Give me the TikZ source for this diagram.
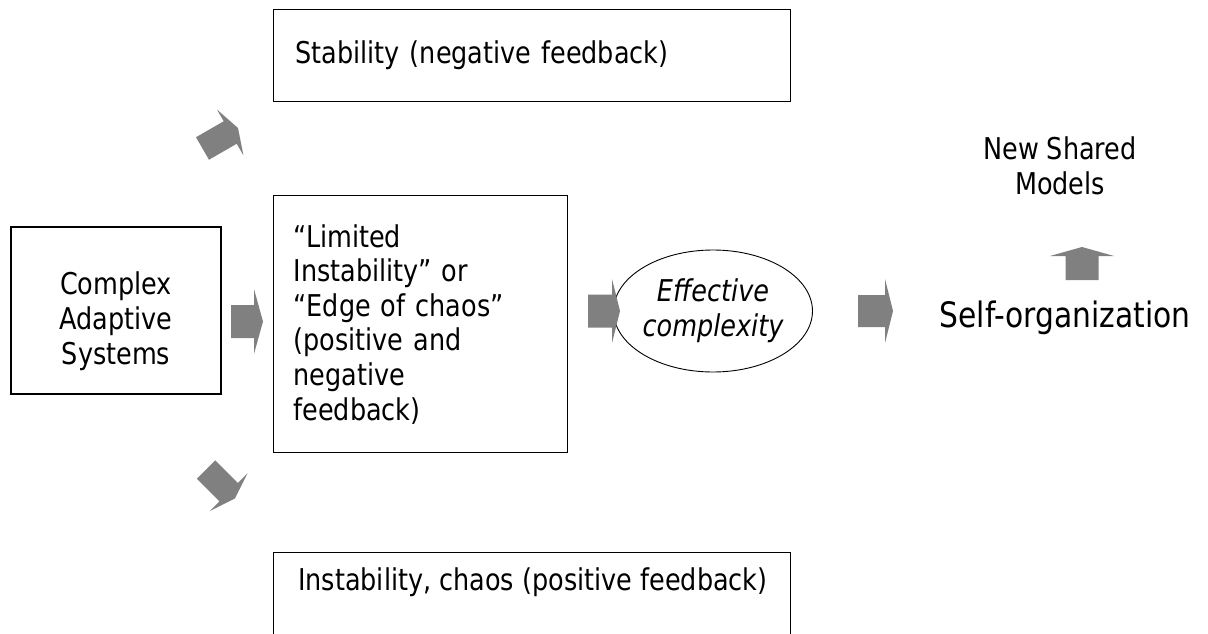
\documentclass[tikz,border=0pt]{standalone}
\usepackage{fontspec}
\setmainfont{DejaVu Sans}[FakeStretch=0.85]
\usetikzlibrary{shapes.geometric}
\definecolor{arrowgray}{HTML}{808080}
\begin{document}
\begin{tikzpicture}[x=1pt,y=-1pt,
    box/.style={draw, line width=1.2pt, rectangle, inner ysep=0pt},
    txt/.style={inner sep=0pt, font=\fontsize{30}{35}\selectfont},
    pics/fatarrow/.style n args={4}{code={
        \fill[arrowgray] (0,-#2) -- (#1,-#2) -- (#1,-#4) -- (#1+#3,0)
            -- (#1,#4) -- (#1,#2) -- (0,#2) -- cycle;}}]

\useasboundingbox (0,0) rectangle (1208,634);

% Complex adaptive systems
\node[box, minimum width=210pt, minimum height=167pt] (casbox) at (116,310.5) {};
\node[txt, align=center] (cas) at (116,321) {Complex\\Adaptive\\Systems};

% Stability box (top)
\node[box, anchor=north west, text width=473pt, inner xsep=22pt,
      minimum height=92pt, align=left, font=\fontsize{30}{35}\selectfont]
      (stab) at (273,9) {Stability (negative feedback)};

% Limited instability box (middle)
\node[box, anchor=north west, text width=254pt, inner xsep=20pt,
      minimum height=257pt, align=left, font=\fontsize{30}{34.6}\selectfont]
      (lim) at (273,195) {“Limited\\Instability” or\\“Edge of chaos”\\(positive and\\negative\\feedback)};

% Instability box (bottom, runs off the page)
\node[box, anchor=north west, minimum width=517pt, minimum height=150pt] (chaos) at (273,552) {};
\node[txt, anchor=base west] (chaostxt) at (298,590) {Instability, chaos (positive feedback)};

% Effective complexity
\node[draw, ellipse, line width=0.9pt, minimum width=166pt, minimum height=122pt,
      inner sep=0pt, align=center, font=\fontsize{30}{35}\selectfont\itshape]
      (eff) at (713,311) {Effective\\complexity};

% Self-organization and new models
\node[inner sep=0pt, anchor=base, font=\fontsize{35}{40}\selectfont] (self) at (1065,327) {Self-organization};
\node[txt, align=center] (models) at (1060,166) {New Shared\\Models};

% Block arrows
\pic[rotate=30] at (202.5,148.5) {fatarrow={32}{13}{9}{26.5}};
\pic at (231,321.5) {fatarrow={23}{16.5}{9}{32.5}};
\pic[rotate=-45] at (206,469.5) {fatarrow={32}{13}{9}{27}};
\pic at (588,311) {fatarrow={24}{16.5}{8}{32}};
\pic at (858,311) {fatarrow={27}{16}{8}{32}};
\pic[rotate=90] at (1082,280) {fatarrow={24}{16.5}{9}{32}};

\end{tikzpicture}
\end{document}
